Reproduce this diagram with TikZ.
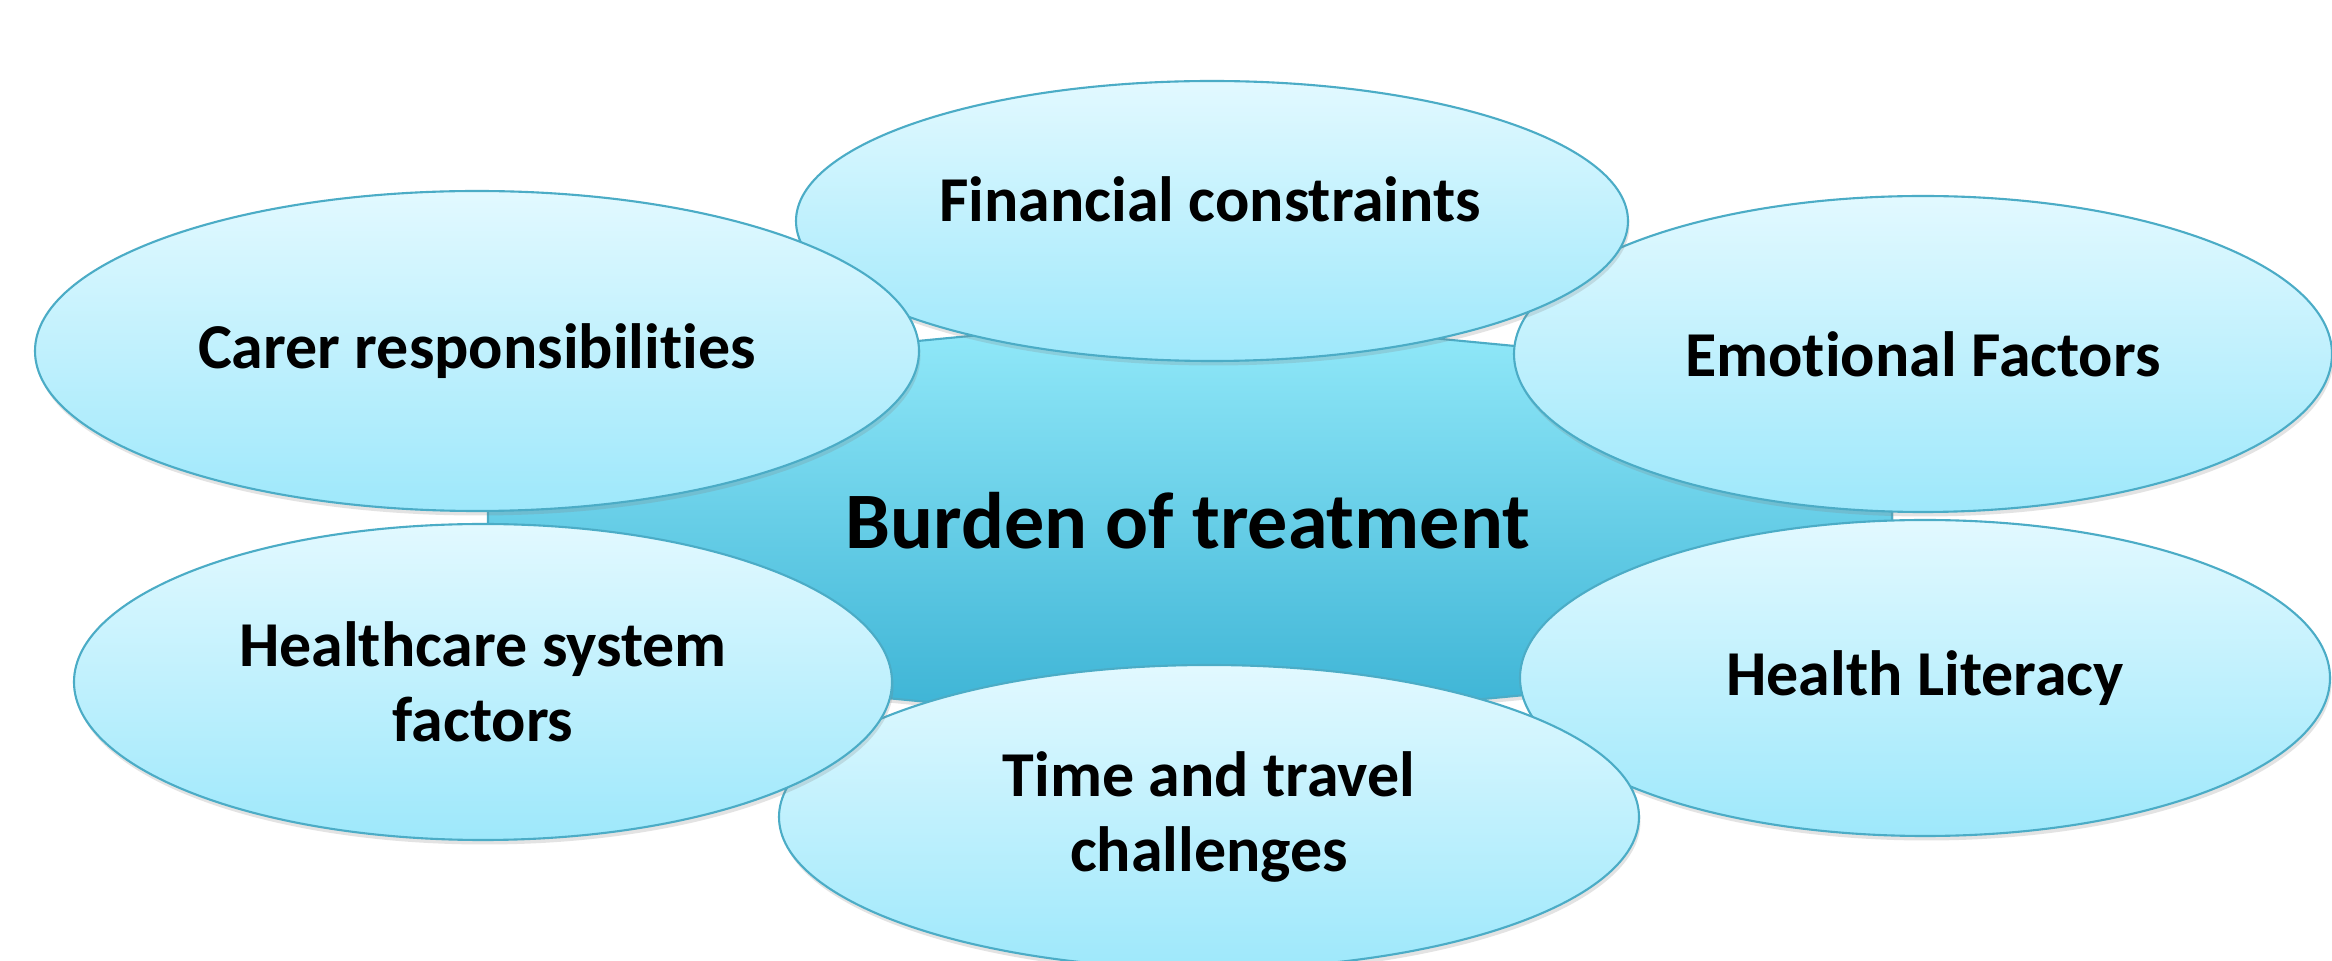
\documentclass[tikz,border=0pt]{standalone}
\usepackage{fontspec}
\setmainfont{Carlito}[Ligatures=NoCommon]
\usepackage{tikz}
\usetikzlibrary{shapes.geometric, shadows}

\definecolor{rimblue}{RGB}{75,172,198}
\definecolor{petaltop}{RGB}{226,249,255}
\definecolor{petalbot}{RGB}{158,232,251}
\definecolor{hubtop}{RGB}{148,234,250}
\definecolor{hubbot}{RGB}{58,178,212}

\begin{document}
\begin{tikzpicture}[x=0.1mm, y=-0.1mm,
  softshadow/.style={drop shadow={shadow xshift=0.15mm, shadow yshift=-0.45mm, opacity=0.22}},
  petal/.style={ellipse, draw=rimblue, line width=0.6pt, inner sep=0pt,
    top color=petaltop, bottom color=petalbot, softshadow,
    align=center, font=\fontsize{18.2}{21.2}\selectfont\bfseries},
  petaltext/.style={align=center, font=\fontsize{18.2}{21.2}\selectfont\bfseries}]

\useasboundingbox[fill=white] (0,0) rectangle (2332,961);

% centre hexagon
\path[draw=rimblue, line width=0.6pt, top color=hubtop, bottom color=hubbot, softshadow]
  (488,382) -- (1190,315) -- (1892,382) -- (1892,660) -- (1190,727) -- (488,660) -- cycle;
\node (burden) [font=\fontsize{22.8}{26}\selectfont\bfseries] at (1188,521) {Burden of treatment};

% outer ellipses, back to front
\node (emotional) [petal, minimum width=81.8mm, minimum height=31.6mm] at (1923,354) {Emotional Factors};
\node (literacy) [petal, minimum width=81mm, minimum height=31.6mm] at (1925,678) {Health Literacy};
\node (travel) [petal, minimum width=86mm, minimum height=30.4mm] at (1209,817) {Time and travel\\challenges};
\node (healthcare) [petal, minimum width=81.8mm, minimum height=31.6mm] at (483,682) {Healthcare system\\factors};
\node (financial) [petal, minimum width=83.2mm, minimum height=28mm] at (1212,221) {};
\node (financial_txt) [petaltext] at (1210,199) {Financial constraints};
\node (carer) [petal, minimum width=88.4mm, minimum height=32mm] at (477,351) {Carer responsibilities};

\end{tikzpicture}
\end{document}
